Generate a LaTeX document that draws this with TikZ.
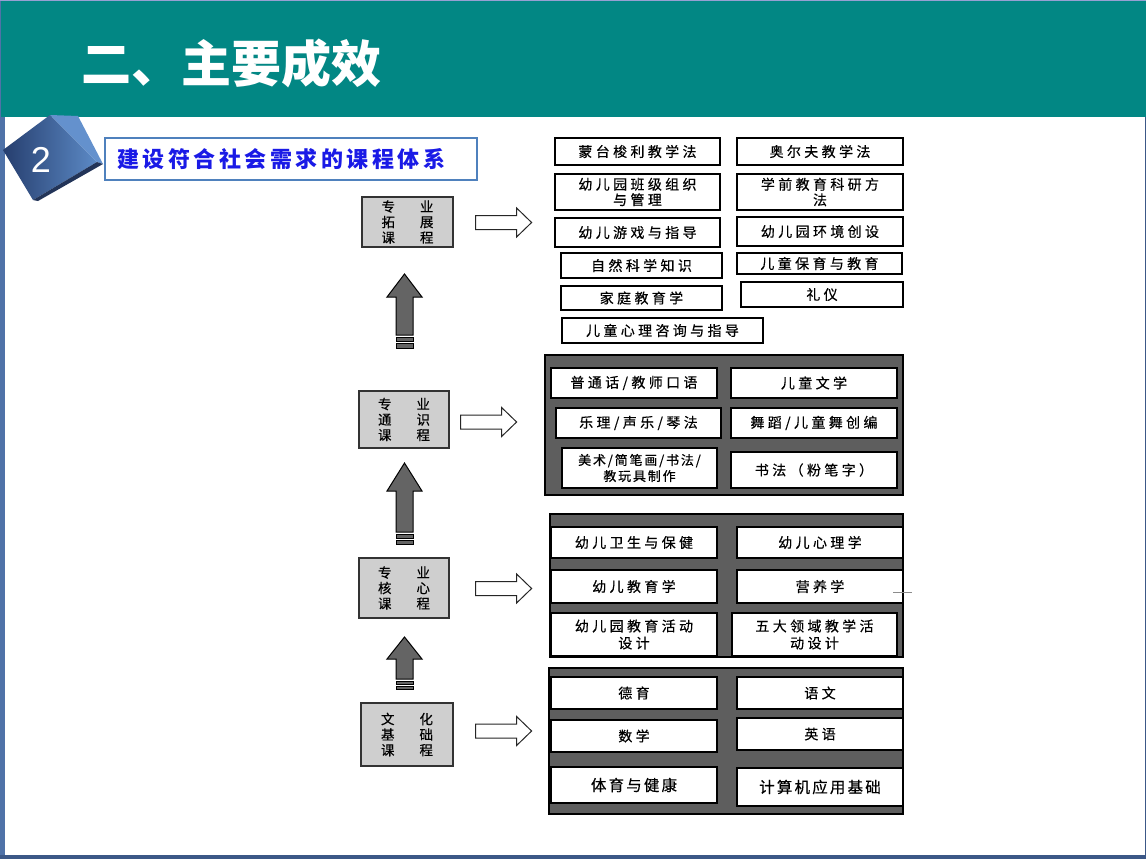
\documentclass[tikz,border=0pt]{standalone}
\usepackage{fontspec}
\newfontfamily\cjk[FakeBold=0.3]{Noto Sans CJK SC}
\newfontfamily\cjkhead{Noto Sans CJK SC}
\newfontfamily\cjkls[LetterSpace=24,FakeBold=0.4]{Noto Sans CJK SC}
\newfontfamily\cjkmid[LetterSpace=14,FakeBold=0.4]{Noto Sans CJK SC}
\newfontfamily\cjktitle[LetterSpace=16]{Noto Sans CJK SC}
\newfontfamily\lsans{Liberation Sans}
\definecolor{teal1}{RGB}{2,135,132}
\definecolor{framecol}{RGB}{79,114,168}
\definecolor{framedark}{RGB}{60,88,135}
\definecolor{toplinecol}{RGB}{150,160,210}
\definecolor{titleblue}{RGB}{79,129,189}
\definecolor{titletext}{RGB}{26,26,230}
\definecolor{catgray}{RGB}{207,207,207}
\definecolor{panelgray}{RGB}{94,94,94}
\definecolor{arrowgray}{RGB}{100,100,100}
\definecolor{badgedark}{RGB}{38,62,110}
\definecolor{badgelight}{RGB}{92,138,198}
\definecolor{badgeside}{RGB}{100,145,205}
\definecolor{badgebottom}{RGB}{34,52,88}
\tikzset{
  course/.style={draw=black, fill=white, line width=1.5pt, inner sep=0pt, align=center,
    font=\cjkls\fontsize{14}{15.5}\selectfont},
  cat/.style={draw=black!80, fill=catgray, line width=1.2pt, inner sep=0pt, align=center,
    font=\cjk\fontsize{13.5}{15.5}\selectfont},
  panel/.style={draw=black, fill=panelgray, line width=1.2pt},
  hollow/.style={draw=black!85, fill=white, line width=1pt},
  uparrow/.style={draw=black, fill=arrowgray, line width=1pt},
  rarrow/.pic={\draw[hollow] (0,-7) -- (41,-7) -- (41,-14.5) -- (56,0) -- (41,14.5) -- (41,7) -- (0,7) -- cycle;}
}
\begin{document}
\begin{tikzpicture}[x=1pt,y=-1pt]
\useasboundingbox (0,0) rectangle (1146,859);
% slide frame
\fill[framecol] (0,0) rectangle (1146,859);
\fill[framedark] (0,855) rectangle (1146,859);
\fill[framedark] (1145,117) rectangle (1146,859);
\fill[white] (5,117) rectangle (1145,855);
\fill[toplinecol] (0,0) rectangle (1146,1);
\fill[teal1] (1,1) rectangle (1146,117);
\node[font=\cjkhead\bfseries\fontsize{50}{52}\selectfont, text=white, inner sep=0pt] (head) at (231,63) {二、主要成效};
% badge
\shade[left color=badgedark, right color=badgelight] (3,150) -- (50,115) -- (97,162) -- (33,200) -- cycle;
\fill[badgeside] (50,115) -- (78,116) -- (103,164) -- (97,162) -- cycle;
\fill[badgebottom] (33,200) -- (97,162) -- (103,164) -- (38,201) -- cycle;
\node[font=\lsans\fontsize{36}{38}\selectfont, text=white] (num) at (41,160) {2};
% title box
\node[draw=titleblue, line width=2.5pt, fill=white, minimum width=372pt, minimum height=42pt, inner sep=0pt] (tbox) at (291,159) {};
\node[anchor=west, font=\cjktitle\bfseries\fontsize{22}{24}\selectfont, text=titletext, inner sep=0pt] (ttext) at (117,159) {建设符合社会需求的课程体系};
% category boxes
\node[cat, minimum width=91pt, minimum height=50pt] (c1) at (407.5,222) {专\hspace{25pt}业\\拓\hspace{25pt}展\\课\hspace{25pt}程};
\node[cat, minimum width=90pt, minimum height=57pt] (c2) at (404,419.5) {专\hspace{25pt}业\\通\hspace{25pt}识\\课\hspace{25pt}程};
\node[cat, minimum width=90pt, minimum height=60pt] (c3) at (404,588) {专\hspace{25pt}业\\核\hspace{25pt}心\\课\hspace{25pt}程};
\node[cat, minimum width=92pt, minimum height=63pt] (c4) at (407,734.5) {文\hspace{25pt}化\\基\hspace{25pt}础\\课\hspace{25pt}程};
% up arrows
\draw[uparrow] (396,335) -- (396,297) -- (387,297) -- (404.5,274) -- (422,297) -- (413,297) -- (413,335) -- cycle;
\draw[uparrow] (396,337) rectangle (413,341);
\draw[uparrow] (396,343) rectangle (413,348);
\draw[uparrow] (396,532) -- (396,491) -- (387,491) -- (404.5,463) -- (422,491) -- (413,491) -- (413,532) -- cycle;
\draw[uparrow] (396,534) rectangle (413,538);
\draw[uparrow] (396,540) rectangle (413,544);
\draw[uparrow] (396,679) -- (396,659) -- (387,659) -- (404.5,637) -- (422,659) -- (413,659) -- (413,679) -- cycle;
\draw[uparrow] (396,681) rectangle (413,684);
\draw[uparrow] (396,686) rectangle (413,689);
% right hollow arrows
\path (c1.east) ++(22,0.5) pic {rarrow};
\path (c2.east) ++(11,2.5) pic {rarrow};
\path (c3.east) ++(26,0.5) pic {rarrow};
\path (c4.east) ++(22,-3.5) pic {rarrow};
% top group (expansion courses)
\node[course, minimum width=165pt, minimum height=27pt] (t1) at (637.5,151.5) {蒙台梭利教学法};
\node[course, minimum width=166pt, minimum height=27pt] (t2) at (820,151.5) {奥尔夫教学法};
\node[course, minimum width=165pt, minimum height=36pt] (t3) at (637.5,192) {幼儿园班级组织\\与管理};
\node[course, minimum width=166pt, minimum height=36pt] (t4) at (820,192) {学前教育科研方\\法};
\node[course, minimum width=165pt, minimum height=29pt] (t5) at (637.5,232.5) {幼儿游戏与指导};
\node[course, minimum width=166pt, minimum height=29pt] (t6) at (820,231.5) {幼儿园环境创设};
\node[course, minimum width=161pt, minimum height=25pt] (t7) at (641.5,265.5) {自然科学知识};
\node[course, minimum width=165pt, minimum height=21pt] (t8) at (819.5,263.5) {儿童保育与教育};
\node[course, minimum width=161pt, minimum height=24pt] (t9) at (641.5,298) {家庭教育学};
\node[course, minimum width=162pt, minimum height=25pt] (t10) at (822,294.5) {礼仪};
\node[course, minimum width=201pt, minimum height=25pt] (t11) at (662.5,330.5) {儿童心理咨询与指导};
% panel 1 (general professional courses)
\draw[panel] (545,355) rectangle (903,495);
\node[course, minimum width=166pt, minimum height=30pt] (g1) at (634,383) {普通话/教师口语};
\node[course, minimum width=166pt, minimum height=30pt] (g2) at (814,383) {儿童文学};
\node[course, minimum width=165pt, minimum height=30pt] (g3) at (638.5,423) {乐理/声乐/琴法};
\node[course, minimum width=166pt, minimum height=30pt] (g4) at (814,423) {舞蹈/儿童舞创编};
\node[course, minimum width=155pt, minimum height=40pt, font=\cjkmid\fontsize{13}{16}\selectfont] (g5) at (639.5,468) {美术/简笔画/书法/\\教玩具制作};
\node[course, minimum width=166pt, minimum height=36pt] (g6) at (814,470) {书法（粉笔字）};
% panel 2 (core courses)
\draw[panel] (550,514) rectangle (903,657);
\node[course, minimum width=166pt, minimum height=31pt] (k1) at (634,542.5) {幼儿卫生与保健};
\node[course, minimum width=166pt, minimum height=31pt] (k2) at (820,542.5) {幼儿心理学};
\node[course, minimum width=166pt, minimum height=33pt] (k3) at (634,586.5) {幼儿教育学};
\node[course, minimum width=166pt, minimum height=33pt] (k4) at (820,586.5) {营养学};
\node[course, minimum width=166pt, minimum height=43pt, font=\cjkls\fontsize{14}{17}\selectfont] (k5) at (634,634.5) {幼儿园教育活动\\设计};
\node[course, minimum width=165pt, minimum height=43pt, font=\cjkls\fontsize{14}{17}\selectfont] (k6) at (814.5,634.5) {五大领域教学活\\动设计};
\draw[black!45, line width=1pt] (893,592) -- (912,592);
% panel 3 (basic culture courses)
\draw[panel] (549,668) rectangle (903,814);
\node[course, minimum width=166pt, minimum height=32pt] (b1) at (634,693) {德育};
\node[course, minimum width=166pt, minimum height=32pt] (b2) at (820,693) {语文};
\node[course, minimum width=166pt, minimum height=32pt] (b3) at (634,736) {数学};
\node[course, minimum width=166pt, minimum height=32pt] (b4) at (820,734) {英语};
\node[course, minimum width=166pt, minimum height=36pt, font=\cjkmid\fontsize{15.5}{17}\selectfont] (b5) at (634,785) {体育与健康};
\node[course, minimum width=166pt, minimum height=38pt, font=\cjkmid\fontsize{15.5}{17}\selectfont] (b6) at (820,787) {计算机应用基础};
\end{tikzpicture}
\end{document}
